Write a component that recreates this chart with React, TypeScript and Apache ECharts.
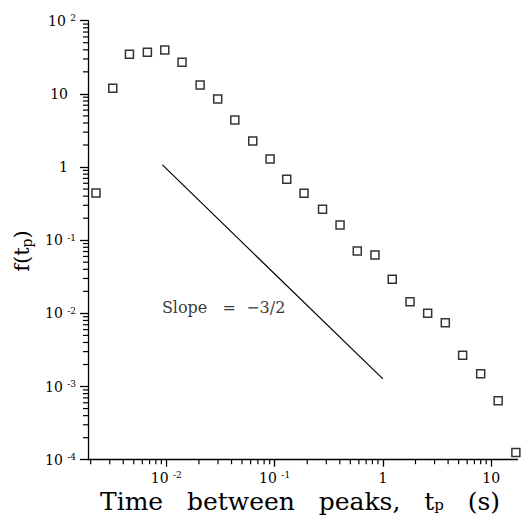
import React, { useEffect, useRef } from 'react';
import * as echarts from 'echarts';

// Time between peaks t_p (s)
const tpValues = [
  0.00224, 0.0032, 0.00456, 0.00668, 0.00967, 0.01396, 0.0205, 0.0298, 0.0429,
  0.0628, 0.0908, 0.1294, 0.187, 0.277, 0.402, 0.58, 0.845, 1.22, 1.78, 2.59,
  3.77, 5.45, 8.0, 11.6, 16.9,
];
// f(t_p)
const fValues = [
  0.44, 11.9, 34.7, 37, 39.8, 27, 13.2, 8.5, 4.4, 2.27, 1.29, 0.68, 0.437, 0.264,
  0.161, 0.0712, 0.0628, 0.0292, 0.01446, 0.01, 0.00746, 0.00267, 0.00149,
  0.00064, 0.000125,
];
// reference slope line (-3/2)
const slopeX = [0.0092, 1.0];
const slopeY = [1.07, 0.00127];
const slopeLabelPos = [0.0091, 0.0119];
const slopeText = 'Slope   =  \u22123/2';

const xTickExponents = [-2, -1, 0, 1];
const xTickLabels = ['10^-2', '10^-1', '1', '10'];
const yTickExponents = [-4, -3, -2, -1, 0, 1, 2];
const yTickLabels = ['10^-4', '10^-3', '10^-2', '10^-1', '1', '10', '10^2'];
const minorMultipliers = [2, 3, 4, 5, 6, 7, 8, 9];
const xDecades = [-3, -2, -1, 0, 1];
const yDecades = [-4, -3, -2, -1, 0, 1];

const X_MIN = 0.00189;
const X_MAX = 17.5;
const Y_MIN = 1e-4;
const Y_MAX = 100;

const FONT = 'DejaVu Serif';
const TICK_COLOR = '#000';

function makeFormatter(exps: number[], labels: string[], spacer: boolean) {
  return (v: number) => {
    const l = Math.log10(v);
    const e = Math.round(l);
    if (Math.abs(l - e) > 1e-6) return '';
    const i = exps.indexOf(e);
    if (i < 0) return '';
    const parts = labels[i].split('^');
    if (parts.length > 1) return `{b|${parts[0]} }{s|${parts[1]}}`;
    return spacer ? `{b|${parts[0]}}{sp|}` : `{b|${parts[0]}}`;
  };
}

const labelRich = {
  b: { fontFamily: FONT, fontSize: 14, color: '#000', lineHeight: 14, verticalAlign: 'bottom' },
  s: { fontFamily: FONT, fontSize: 9, color: '#000', lineHeight: 9, verticalAlign: 'top' },
  sp: { width: 8 },
};

function minorValues(decades: number[], lo: number, hi: number) {
  const out: number[] = [];
  decades.forEach((d) => {
    minorMultipliers.forEach((m) => {
      const v = m * Math.pow(10, d);
      if (v > lo && v < hi) out.push(v);
    });
  });
  return out;
}

export default function App() {
  const ref = useRef<HTMLDivElement>(null);
  useEffect(() => {
    document.body.style.margin = '0';
    if (!ref.current) return;
    const chart = echarts.init(ref.current, null, { renderer: 'svg' });
    const xMinor = minorValues(xDecades, X_MIN, X_MAX);
    const yMinor = minorValues(yDecades, Y_MIN, Y_MAX);
    const axisLine = { show: true, onZero: false, lineStyle: { color: '#000', width: 1.3 } };
    chart.setOption({
      animation: false,
      backgroundColor: '#fff',
      grid: { left: 88, right: 4.5, top: 20.7, bottom: 56.3, containLabel: false },
      xAxis: {
        type: 'log',
        logBase: 10,
        min: X_MIN,
        max: X_MAX,
        axisLine,
        axisTick: { show: true, length: 7, inside: false, lineStyle: { color: TICK_COLOR, width: 1.3 } },
        axisLabel: {
          margin: 11,
          formatter: makeFormatter(xTickExponents, xTickLabels, false),
          rich: labelRich,
          showMinLabel: false,
          showMaxLabel: false,
        },
        splitLine: { show: false },
      },
      yAxis: {
        type: 'log',
        logBase: 10,
        min: Y_MIN,
        max: Y_MAX,
        axisLine,
        axisTick: { show: true, length: 8, inside: false, lineStyle: { color: TICK_COLOR, width: 1.3 } },
        axisLabel: {
          margin: 12,
          formatter: makeFormatter(yTickExponents, yTickLabels, true),
          rich: labelRich,
        },
        splitLine: { show: false },
      },
      graphic: [
        {
          type: 'text',
          x: 300,
          y: 501,
          style: {
            text: '{a|Time   between   peaks,   t}{p|p}{a|   (s)}',
            align: 'center',
            verticalAlign: 'middle',
            rich: {
              a: { fontFamily: FONT, fontSize: 25, fill: '#000', lineHeight: 22, verticalAlign: 'middle' },
              p: { fontFamily: FONT, fontSize: 15, fill: '#000', lineHeight: 14, verticalAlign: 'bottom' },
            },
          },
        },
        {
          type: 'text',
          x: 22,
          y: 251,
          rotation: Math.PI / 2,
          style: {
            text: '{a|f(t}{p|p}{a|)}',
            align: 'center',
            verticalAlign: 'middle',
            rich: {
              a: { fontFamily: FONT, fontSize: 21, fill: '#000', lineHeight: 24, verticalAlign: 'middle' },
              p: { fontFamily: FONT, fontSize: 14, fill: '#000', lineHeight: 16, verticalAlign: 'bottom' },
            },
          },
        },
      ],
      series: [
        {
          type: 'scatter',
          data: tpValues.map((x, i) => [x, fValues[i]]),
          symbol: 'rect',
          symbolSize: 8,
          clip: false,
          itemStyle: { color: 'rgba(255,255,255,0)', borderColor: '#000', borderWidth: 1.5 },
          z: 5,
        },
        {
          type: 'line',
          data: slopeX.map((x, i) => [x, slopeY[i]]),
          showSymbol: false,
          symbol: 'none',
          lineStyle: { color: '#000', width: 1.2 },
        },
        {
          type: 'scatter',
          data: [slopeLabelPos],
          symbolSize: 0,
          label: {
            show: true,
            position: 'right',
            distance: 0,
            formatter: slopeText,
            fontFamily: FONT,
            fontSize: 16,
            color: '#000',
          },
        },
        {
          type: 'custom',
          coordinateSystem: 'cartesian2d',
          clip: false,
          silent: true,
          z: 10,
          data: xMinor.map((v) => [v, Y_MIN]),
          renderItem: (params: any, api: any) => {
            const p = api.coord([api.value(0), api.value(1)]);
            return {
              type: 'line',
              shape: { x1: p[0], y1: p[1], x2: p[0], y2: p[1] + 4.5 },
              style: { stroke: TICK_COLOR, lineWidth: 1.2 },
            };
          },
        },
        {
          type: 'custom',
          coordinateSystem: 'cartesian2d',
          clip: false,
          silent: true,
          z: 10,
          data: yMinor.map((v) => [X_MIN, v]),
          renderItem: (params: any, api: any) => {
            const p = api.coord([api.value(0), api.value(1)]);
            return {
              type: 'line',
              shape: { x1: p[0] - 5, y1: p[1], x2: p[0], y2: p[1] },
              style: { stroke: TICK_COLOR, lineWidth: 1.2 },
            };
          },
        },
      ],
    });
    return () => chart.dispose();
  }, []);
  return <div ref={ref} style={{ width: 522, height: 516 }} />;
}
